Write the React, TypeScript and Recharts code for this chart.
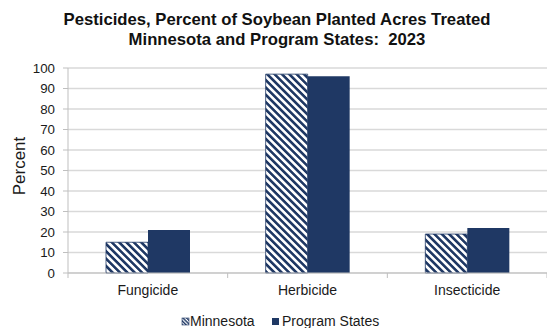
import React from "react";
import { BarChart, Bar, XAxis, YAxis, CartesianGrid } from "recharts";

const categories = ["Fungicide", "Herbicide", "Insecticide"];
const minnesota = [15, 97, 19];
const programStates = [21, 96, 22];
const seriesNames = ["Minnesota", "Program States"];
const yTicks = [0, 10, 20, 30, 40, 50, 60, 70, 80, 90, 100];
const titleLines = [
  "Pesticides, Percent of Soybean Planted Acres Treated",
  "Minnesota and Program States:  2023",
];
const yLabel = "Percent";

const W = 547;
const H = 328;
const PLOT_LEFT = 68;
const PLOT_RIGHT = 547;
const NAVY = "#1f3864";
const FONT = "'Liberation Sans', Arial, sans-serif";

const data = categories.map((c, i) => ({
  name: c,
  mn: minnesota[i],
  ps: programStates[i],
}));

const band = (PLOT_RIGHT - PLOT_LEFT) / categories.length;

const XTick = (props: any) => {
  const { x, y, payload, index } = props;
  const left = x - band / 2;
  const right = x + band / 2;
  return (
    <g>
      {index === 0 && (
        <line x1={left} x2={left} y1={y} y2={y + 5} stroke="#bfbfbf" strokeWidth={1} />
      )}
      <line x1={right} x2={right} y1={y} y2={y + 5} stroke="#bfbfbf" strokeWidth={1} />
      <text x={x} y={y + 22} textAnchor="middle" fontSize={14} fill="#1a1a1a" fontFamily={FONT}>
        {payload.value}
      </text>
    </g>
  );
};

export default function App() {
  return (
    <div style={{ position: "absolute", left: 0, top: 0, width: W, height: H, background: "#fff" }}>
      <BarChart
        width={W}
        height={H}
        data={data}
        margin={{ top: 68, right: 0, left: 0, bottom: 0 }}
        barGap={0}
      >
        <defs>
          <pattern
            id="hatch"
            patternUnits="userSpaceOnUse"
            width={5.2}
            height={5.2}
            patternTransform="rotate(-45)"
          >
            <rect x={0} y={0} width={5.2} height={5.2} fill="#ffffff" />
            <rect x={0} y={0} width={2.6} height={5.2} fill={NAVY} />
          </pattern>
        </defs>
        <CartesianGrid vertical={false} stroke="#d9d9d9" strokeWidth={1.3} />
        <XAxis
          dataKey="name"
          height={55}
          tickLine={false}
          tickSize={0}
          tickMargin={0}
          axisLine={{ stroke: "#bfbfbf" }}
          tick={<XTick />}
          interval={0}
        />
        <YAxis
          width={68}
          domain={[0, 100]}
          ticks={yTicks}
          interval={0}
          tickSize={5}
          tickMargin={8}
          axisLine={{ stroke: "#bfbfbf" }}
          tickLine={{ stroke: "#bfbfbf" }}
          tick={{ fontSize: 13.3, fill: "#1a1a1a", fontFamily: FONT }}
        />
        <Bar
          dataKey="mn"
          name={seriesNames[0]}
          fill="url(#hatch)"
          stroke={NAVY}
          strokeWidth={0.8}
          barSize={42}
          isAnimationActive={false}
        />
        <Bar
          dataKey="ps"
          name={seriesNames[1]}
          fill={NAVY}
          barSize={42}
          isAnimationActive={false}
        />
      </BarChart>
      <svg
        width={W}
        height={H}
        style={{ position: "absolute", left: 0, top: 0, pointerEvents: "none" }}
      >
        <defs>
          <pattern
            id="hatch2"
            patternUnits="userSpaceOnUse"
            width={2.6}
            height={2.6}
            patternTransform="rotate(-45)"
          >
            <rect x={0} y={0} width={2.6} height={2.6} fill="#ffffff" />
            <rect x={0} y={0} width={1.4} height={2.6} fill={NAVY} />
          </pattern>
        </defs>
        {titleLines.map((t, i) => (
          <text
            key={i}
            x={277}
            y={25 + i * 20}
            textAnchor="middle"
            fontSize={16.7}
            fontWeight="bold"
            fill="#111"
            fontFamily={FONT}
            style={{ whiteSpace: "pre" }}
          >
            {t}
          </text>
        ))}
        <text
          x={25}
          y={166}
          transform="rotate(-90 25 166)"
          textAnchor="middle"
          fontSize={17}
          fill="#1a1a1a"
          fontFamily={FONT}
        >
          {yLabel}
        </text>
        <g>
          <rect x={182} y={318} width={7} height={7} fill="url(#hatch2)" stroke={NAVY} strokeWidth={0.6} />
          <text x={190} y={326} fontSize={14} fill="#1a1a1a" fontFamily={FONT}>
            {seriesNames[0]}
          </text>
          <rect x={272} y={318} width={7} height={7} fill={NAVY} />
          <text x={282} y={326} fontSize={14} fill="#1a1a1a" fontFamily={FONT}>
            {seriesNames[1]}
          </text>
        </g>
      </svg>
    </div>
  );
}
